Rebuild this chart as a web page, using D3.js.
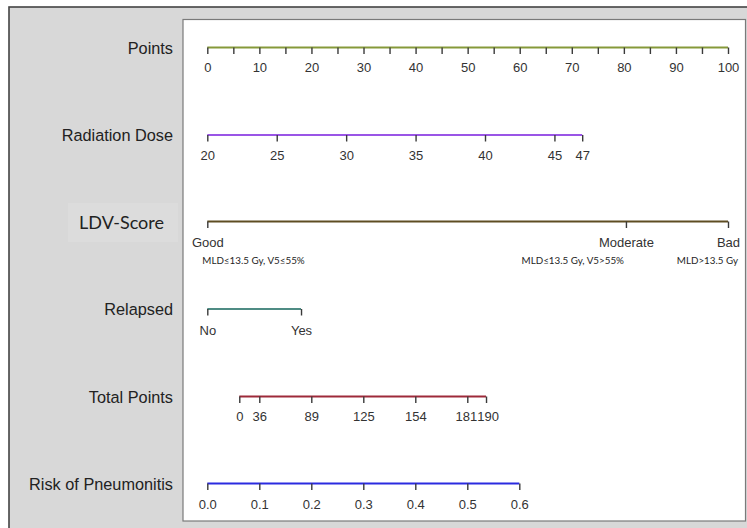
<!DOCTYPE html>
<html>
<head>
<meta charset="utf-8">
<script src="https://cdn.jsdelivr.net/npm/d3@7"></script>
<style>
  html, body { margin: 0; padding: 0; background: #ffffff; }
  svg { display: block; }
  .axis text { font-family: "Liberation Sans", Arial, sans-serif; font-size: 13px; fill: #333; }
  .axis .tick line { stroke: #3a3a3a; stroke-width: 1.4; }
  .title { font-family: "Liberation Sans", Arial, sans-serif; font-size: 16.3px; fill: #222; text-anchor: end; }
</style>
</head>
<body>
<script>
// Nomogram: radiation pneumonitis risk
const pointsTicks = [0, 5, 10, 15, 20, 25, 30, 35, 40, 45, 50, 55, 60, 65, 70, 75, 80, 85, 90, 95, 100];
const pointsLabels = [0, 10, 20, 30, 40, 50, 60, 70, 80, 90, 100];

const doseTicks = [20, 25, 30, 35, 40, 45, 47];
const doseDomain = [20, 47];
const dosePoints = [0, 72];           // points reached at the ends of the dose range

const ldvCategories = ["Good", "Moderate", "Bad"];
const ldvPoints = [0, 80.4, 100];
const ldvNotes = ["MLD\u226413.5 Gy, V5\u226455%", "MLD\u226413.5 Gy, V5>55%", "MLD>13.5 Gy"];

const relapsedCategories = ["No", "Yes"];
const relapsedPoints = [0, 18];

const totalTicks = [0, 36, 89, 125, 154, 181, 190];
const totalRisk = [0.0615, 0.1, 0.2, 0.3, 0.4, 0.5, 0.536];   // risk matched to each total

const riskTicks = [0.0, 0.1, 0.2, 0.3, 0.4, 0.5, 0.6];

const rowTitles = ["Points", "Radiation Dose", "LDV-Score", "Relapsed", "Total Points", "Risk of Pneumonitis"];
const rowColors = ["#86993a", "#9a55e6", "#5e4d22", "#4f8c84", "#9e2a3a", "#2b2be0"];

const W = 747, H = 528;
const svg = d3.select("body").append("svg").attr("width", W).attr("height", H);

// frame: grey label strip with a white plotting panel
svg.append("rect").attr("x", 0).attr("y", 0).attr("width", W).attr("height", H).attr("fill", "#ffffff");
svg.append("rect").attr("x", 9).attr("y", 7).attr("width", W + 10).attr("height", H + 10)
  .attr("fill", "#d8d8d8").attr("stroke", "#444").attr("stroke-width", 1.6);
svg.append("rect").attr("x", 183).attr("y", 19.5).attr("width", 562.5).attr("height", 501.5)
  .attr("fill", "#ffffff").attr("stroke", "#7a7a7a").attr("stroke-width", 1.2);

const rowY = [47.5, 135, 221.5, 309, 396.5, 483.5];
const labelDy = ["0.92em", "0.96em", "1.0em", "1.04em", "0.96em", "1.0em"];

const xPoints = d3.scaleLinear().domain([0, 100]).range([207.3, 728]);
const xRisk = d3.scaleLinear().domain([0, 0.6]).range([207.3, 519.3]);
const xDose = d3.scaleLinear().domain(doseDomain).range(dosePoints.map(xPoints));
const xTotal = d3.scaleLinear().domain(totalTicks).range(totalRisk.map(xRisk));

function drawAxis(i, scale, values, fmt) {
  const axis = d3.axisBottom(scale).tickValues(values).tickFormat(fmt)
    .tickSize(6.5).tickSizeOuter(0).tickPadding(6);
  const g = svg.append("g").attr("class", "axis").attr("transform", `translate(0,${rowY[i]})`).call(axis);
  // the coloured rule spans only the values this row can take
  const ext = d3.extent(values).map(scale);
  g.select(".domain").attr("d", `M${ext[0]},0H${ext[1]}`)
    .attr("stroke", rowColors[i]).attr("stroke-width", 2.2);
  g.selectAll(".tick").raise();
  g.selectAll(".tick text").attr("dy", labelDy[i]);
  return g;
}

// Points
drawAxis(0, xPoints, pointsTicks, d => pointsLabels.includes(d) ? String(d) : "");

// Radiation Dose
drawAxis(1, xDose, doseTicks, d => String(d));

// LDV-Score
drawAxis(2, xPoints, ldvPoints, (d, i) => ldvCategories[i]);
svg.selectAll("text.note").data(ldvNotes).join("text").attr("class", "note")
  .attr("x", (d, i) => i === 0 ? xPoints(ldvPoints[0]) - 5 : (i === 1 ? xPoints(ldvPoints[1]) - 2 : xPoints(ldvPoints[2]) + 10))
  .attr("y", rowY[2] + 42)
  .attr("text-anchor", (d, i) => i === 0 ? "start" : "end")
  .attr("font-family", "Lato, 'Open Sans', sans-serif").attr("font-size", 9.8).attr("fill", "#1e1e1e")
  .text(d => d);

// Relapsed
drawAxis(3, xPoints, relapsedPoints, (d, i) => relapsedCategories[i]);

// Total Points: the two top totals sit close, so their labels are eased apart
const gt = drawAxis(4, xTotal, totalTicks, d => String(d));
gt.selectAll(".tick text").attr("dx", d => d === 181 ? -1.5 : (d === 190 ? 1.5 : 0));

// Risk of Pneumonitis
drawAxis(5, xRisk, riskTicks, d3.format(".1f"));

// row titles
svg.append("rect").attr("x", 68).attr("y", 203).attr("width", 110).attr("height", 39).attr("fill", "#dcdcdc");
rowTitles.forEach((t, i) => {
  const txt = svg.append("text").attr("class", "title").attr("x", 173).attr("y", rowY[i] + 6).text(t);
  if (i === 2) {
    txt.attr("x", 164).attr("y", rowY[i] + 7.5)
      .style("font-family", "Lato, 'Open Sans', sans-serif").style("font-size", "18px");
  }
});
</script>
</body>
</html>
